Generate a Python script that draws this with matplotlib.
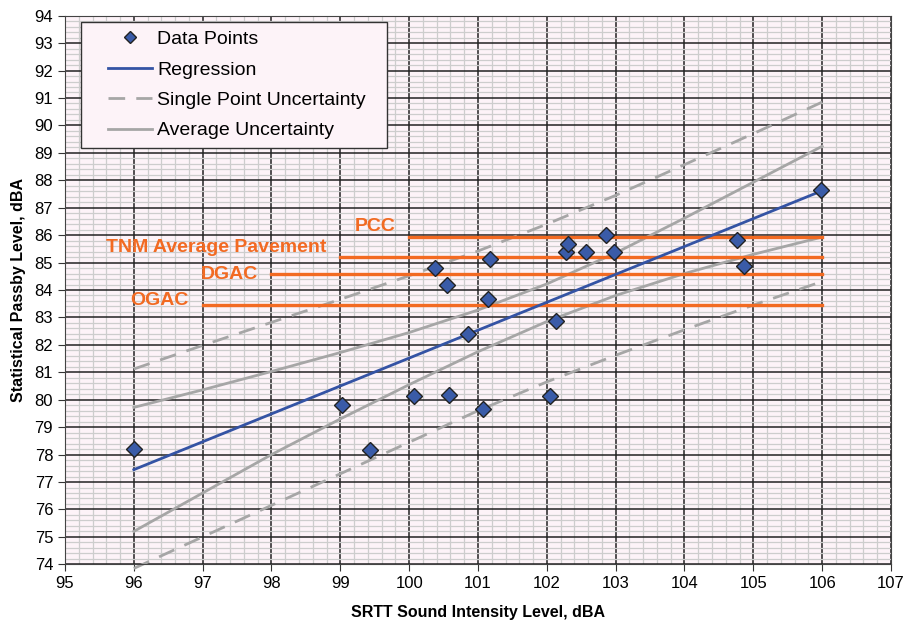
import matplotlib
matplotlib.use('Agg')
import matplotlib.pyplot as plt
from matplotlib.ticker import MultipleLocator
from matplotlib.legend_handler import HandlerLine2D

# measured points
srtt_x = [96.00, 99.02, 99.43, 100.07, 100.58, 101.08, 102.04, 100.85, 102.14, 101.15, 100.55,
          100.38, 101.18, 102.28, 102.31, 102.57, 102.86, 102.97, 104.77, 104.87, 105.98]
passby_y = [78.20, 79.80, 78.15, 80.14, 80.19, 79.67, 80.12, 82.40, 82.88, 83.69, 84.20,
            84.81, 85.12, 85.40, 85.69, 85.40, 86.02, 85.40, 85.81, 84.89, 87.63]

# regression line and uncertainty bands (read at integer x)
reg_x = [96, 106]
reg_y = [77.45, 87.62]
band_x = [96, 97, 98, 99, 100, 101, 102, 103, 104, 105, 106]
avg_upper = [79.72, 80.36, 81.03, 81.72, 82.45, 83.27, 84.22, 85.35, 86.62, 87.93, 89.24]
avg_lower = [75.20, 76.60, 78.00, 79.30, 80.55, 81.75, 82.85, 83.80, 84.60, 85.30, 85.93]
single_upper = [81.12, 81.98, 82.82, 83.66, 84.52, 85.42, 86.40, 87.45, 88.57, 89.70, 90.85]
single_lower = [73.85, 75.00, 76.15, 77.30, 78.45, 79.60, 80.65, 81.62, 82.55, 83.45, 84.31]

# pavement levels
pave_names = ['PCC', 'TNM Average Pavement', 'DGAC', 'OGAC']
pave_level = [85.95, 85.20, 84.60, 83.47]
pave_start = [100, 99, 98, 97]
pave_end = [106, 106, 106, 106]
label_y = [86.31, 85.54, 84.56, 83.61]

plt.rcParams['font.family'] = ['Liberation Sans', 'DejaVu Sans']

fig = plt.figure(figsize=(9.04, 6.25), dpi=100)
ax = fig.add_axes([0.0719, 0.0971, 0.9137, 0.8778])
ax.set_facecolor('#fdf3f8')

gray = '#a6a6a6'
orange = '#f26a22'

ax.plot(band_x, single_upper, color=gray, lw=2, dashes=(6, 4), clip_on=False)
ax.plot(band_x, single_lower, color=gray, lw=2, dashes=(6, 4), clip_on=False)
ax.plot(band_x, avg_upper, color=gray, lw=2)
ax.plot(band_x, avg_lower, color=gray, lw=2)

for name, lev, x0, x1, ly in zip(pave_names, pave_level, pave_start, pave_end, label_y):
    ax.plot([x0, x1], [lev, lev], color=orange, lw=2.4)
    ax.text(x0 - 0.2, ly, name, color=orange, fontsize=14, fontweight='bold',
            ha='right', va='center')

ax.plot(reg_x, reg_y, color='#3453a4', lw=2)
ax.plot(srtt_x, passby_y, 'D', color='#3a5ba8', mec='#222222', mew=1, ms=8, zorder=5)

# legend handles
h_pts, = ax.plot([], [], 'D', color='#3a5ba8', mec='#222222', mew=1, ms=6.5)
h_reg, = ax.plot([], [], color='#3453a4', lw=2)
h_sp, = ax.plot([], [], color=gray, lw=2, dashes=(6, 4))
h_avg, = ax.plot([], [], color=gray, lw=2)
leg = ax.legend([h_pts, h_reg, h_sp, h_avg],
                ['Data Points', 'Regression', 'Single Point Uncertainty', 'Average Uncertainty'],
                loc='upper left', bbox_to_anchor=(0.019, 0.5, 0.3705, 0.489), mode='expand',
                borderaxespad=0, fontsize=14, handlelength=3.2, handletextpad=0.3,
                labelspacing=0.66, fancybox=False, framealpha=1, borderpad=0.45,
                handler_map={h: HandlerLine2D(xpad=0.93) for h in [h_pts, h_reg, h_sp, h_avg]})
leg.get_frame().set_facecolor('#fdf3f8')
leg.get_frame().set_edgecolor('#333333')
leg.get_frame().set_linewidth(1)

ax.set_xlim(95, 107)
ax.set_ylim(74, 94)
ax.xaxis.set_major_locator(MultipleLocator(1))
ax.yaxis.set_major_locator(MultipleLocator(1))
ax.xaxis.set_minor_locator(MultipleLocator(0.2))
ax.yaxis.set_minor_locator(MultipleLocator(0.2))
ax.set_axisbelow(True)
ax.grid(which='minor', color='#cdcdcd', lw=0.9)
ax.grid(which='major', color='#222222', lw=1.1)
ax.tick_params(which='minor', length=0)
ax.tick_params(which='major', length=5, labelsize=12, color='#333333')
for s in ax.spines.values():
    s.set_color('#444444')

ax.set_xlabel('SRTT Sound Intensity Level, dBA', fontsize=11.5, fontweight='bold', labelpad=10)
ax.set_ylabel('Statistical Passby Level, dBA', fontsize=11.5, fontweight='bold', labelpad=6)

plt.savefig('out.png', dpi=100)
